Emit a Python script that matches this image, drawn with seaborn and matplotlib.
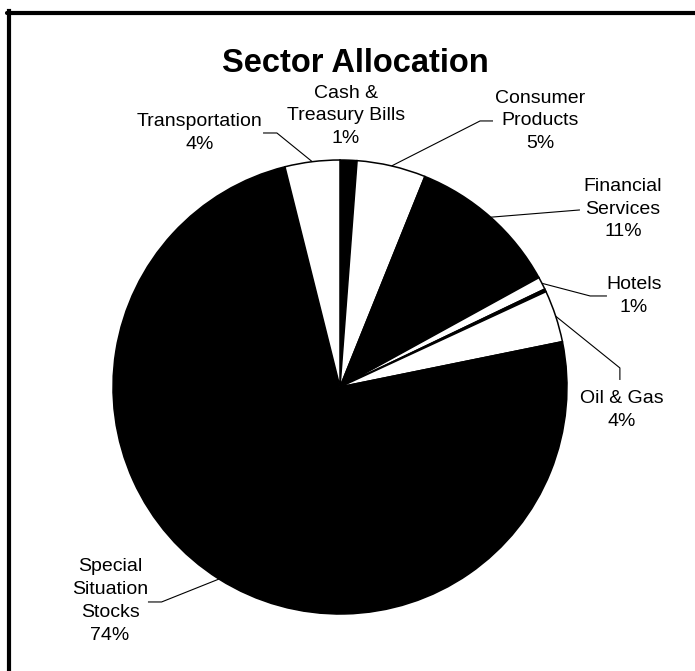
import numpy as np
import seaborn as sns
import matplotlib
matplotlib.use('Agg')
import matplotlib.pyplot as plt
from matplotlib.lines import Line2D

sns.set_style('white')
plt.rcParams['font.family'] = ['Liberation Sans', 'DejaVu Sans']
plt.rcParams['text.color'] = 'black'

# sector data, clockwise from 12 o'clock
sectors = ['Cash &\nTreasury Bills', 'Consumer\nProducts', 'Financial\nServices', 'Hotels',
           '', 'Oil & Gas', 'Special\nSituation\nStocks', 'Transportation']
weights = [1.2, 4.9, 10.9, 0.9, 0.2, 3.7, 74.3, 3.9]
slice_colors = ['black', 'white', 'black', 'white', 'black', 'white', 'black', 'white']

# label layout (pie radius = 1): text centre, leader-line points after the edge anchor
label_pos = [(0.026, 1.194), (0.881, 1.172), (1.247, 0.784), (1.295, 0.401),
             None, (1.242, -0.101), (-1.013, -0.943), (-0.617, 1.119)]
leader_pts = [[], [(0.617, 1.172), (0.674, 1.172)], [(1.057, 0.780)],
              [(1.102, 0.401), (1.176, 0.401)], [], [(1.233, 0.084), (1.233, 0.031)],
              [(-0.786, -0.947), (-0.846, -0.947)], [(-0.278, 1.119), (-0.339, 1.119)]]

W, H = 695, 671
fig = plt.figure(figsize=(W / 100, H / 100), dpi=100)
ax = fig.add_axes([0, 0, 1, 1])

cx, cy, rad = 340, 387, 227
wedges, _ = ax.pie(weights, colors=slice_colors, startangle=90, counterclock=False,
                   radius=1, wedgeprops=dict(edgecolor='black', linewidth=1.1))

ax.set_aspect('auto')
ax.set_xlim(-cx / rad, (W - cx) / rad)
ax.set_ylim(-(H - cy) / rad, cy / rad)
ax.axis('off')

for w, name, val, pos, pts in zip(wedges, sectors, weights, label_pos, leader_pts):
    if pos is None:
        continue
    ang = np.deg2rad((w.theta1 + w.theta2) / 2)
    anchor = (np.cos(ang), np.sin(ang))
    if pts:
        xs = [anchor[0]] + [p[0] for p in pts]
        ys = [anchor[1]] + [p[1] for p in pts]
        ax.plot(xs, ys, color='black', lw=0.8, solid_capstyle='butt')
    ax.text(pos[0], pos[1], f'{name}\n{val:.0f}%', ha='center', va='center',
            fontsize=14, linespacing=1.45, color='black')

fig.text(355 / W, 1 - 64 / H, 'Sector Allocation', ha='center', va='center',
         fontsize=23.5, fontweight='bold', color='black')

# chart border (only top and left edges fall inside the picture)
fig.add_artist(Line2D([9 / W, 9 / W], [1 - 11 / H, -0.05], transform=fig.transFigure,
                      color='black', lw=3, solid_capstyle='projecting'))
fig.add_artist(Line2D([7 / W, 1.05], [1 - 13 / H, 1 - 13 / H], transform=fig.transFigure,
                      color='black', lw=3))

fig.savefig('out.png', dpi=100, facecolor='white')
